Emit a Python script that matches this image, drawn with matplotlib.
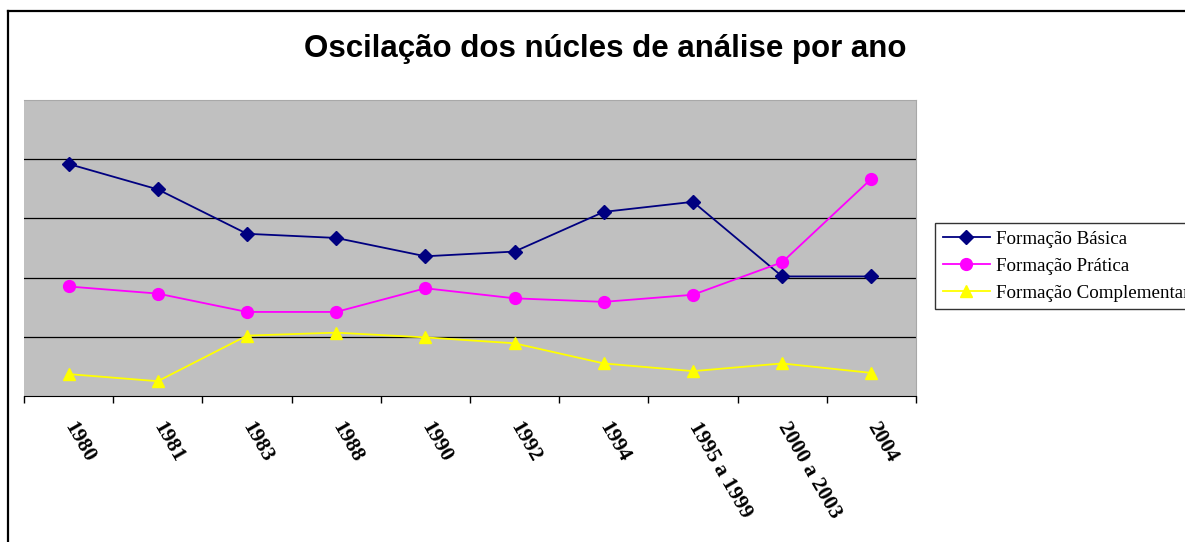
import numpy as np
import matplotlib
matplotlib.use('Agg')
import matplotlib.pyplot as plt
from matplotlib.lines import Line2D

# ── Data ──────────────────────────────────────────────────────────────────────
periodos = ['1980', '1981', '1983', '1988', '1990', '1992', '1994',
            '1995 a 1999', '2000 a 2003', '2004']
basica = [39.2, 34.9, 27.4, 26.7, 23.6, 24.4, 31.1, 32.8, 20.2, 20.2]
pratica = [18.5, 17.3, 14.2, 14.2, 18.2, 16.5, 15.9, 17.1, 22.6, 36.7]
complementar = [3.7, 2.5, 10.2, 10.7, 9.9, 8.9, 5.5, 4.2, 5.5, 3.9]

# ── Figure ────────────────────────────────────────────────────────────────────
fig = plt.figure(figsize=(11.85, 5.42), dpi=100)
W, H = 1185, 542
ax = fig.add_axes([24 / W, 1 - 396 / H, (916 - 24) / W, (396 - 100) / H])
ax.set_facecolor('#C0C0C0')

x = np.arange(len(periodos))
ax.plot(x, basica, color='#000080', lw=1.3, marker='D', ms=7,
        label='Formação Básica', zorder=3)
ax.plot(x, pratica, color='#FF00FF', lw=1.3, marker='o', ms=8.5,
        label='Formação Prática', zorder=3)
ax.plot(x, complementar, color='#FFFF00', lw=1.3, marker='^', ms=9,
        label='Formação Complementar', zorder=3)

ax.set_xlim(-0.5, len(periodos) - 0.5)
ax.set_ylim(0, 50)
ax.set_yticks([10, 20, 30, 40])
ax.yaxis.grid(True, color='#000000', lw=0.9)
ax.set_axisbelow(True)
ax.tick_params(axis='y', left=False, labelleft=False)

ax.set_xticks(x)
ax.set_xticklabels(periodos, rotation=-60, rotation_mode='anchor',
                   ha='left', va='center', fontsize=15.5, fontweight='bold',
                   family='Liberation Serif')
ax.tick_params(axis='x', which='major', length=0, pad=20)
ax.set_xticks(np.arange(-0.5, len(periodos)), minor=True)
ax.tick_params(axis='x', which='minor', length=5, width=1, color='black',
               direction='out')

ax.spines['left'].set_visible(False)
ax.spines['top'].set_color('#A8A8A8')
ax.spines['right'].set_color('#A8A8A8')
ax.spines['bottom'].set_color('black')

fig.text(0.511, 1 - 49 / H, 'Oscilação dos núcles de análise por ano',
         ha='center', va='center', fontsize=22.5, fontweight='bold',
         family='Liberation Sans')

# legend sits against the right edge, as in the original (last label runs off)
leg = fig.legend(loc='upper left', bbox_to_anchor=(935 / W, 1 - 223 / H),
                 prop={'family': 'Liberation Serif', 'size': 13.7},
                 frameon=True, fancybox=False, edgecolor='black',
                 borderaxespad=0, handlelength=2.5, labelspacing=0.5,
                 handletextpad=0.3, borderpad=0.4)
leg.get_frame().set_linewidth(1.0)

# outer frame (left and top edges)
fig.add_artist(Line2D([8 / W, 8 / W], [0, 1 - 11 / H], color='black', lw=1.6))
fig.add_artist(Line2D([8 / W, 1], [1 - 11 / H, 1 - 11 / H], color='black', lw=1.6))

plt.savefig('out.png', dpi=100)
